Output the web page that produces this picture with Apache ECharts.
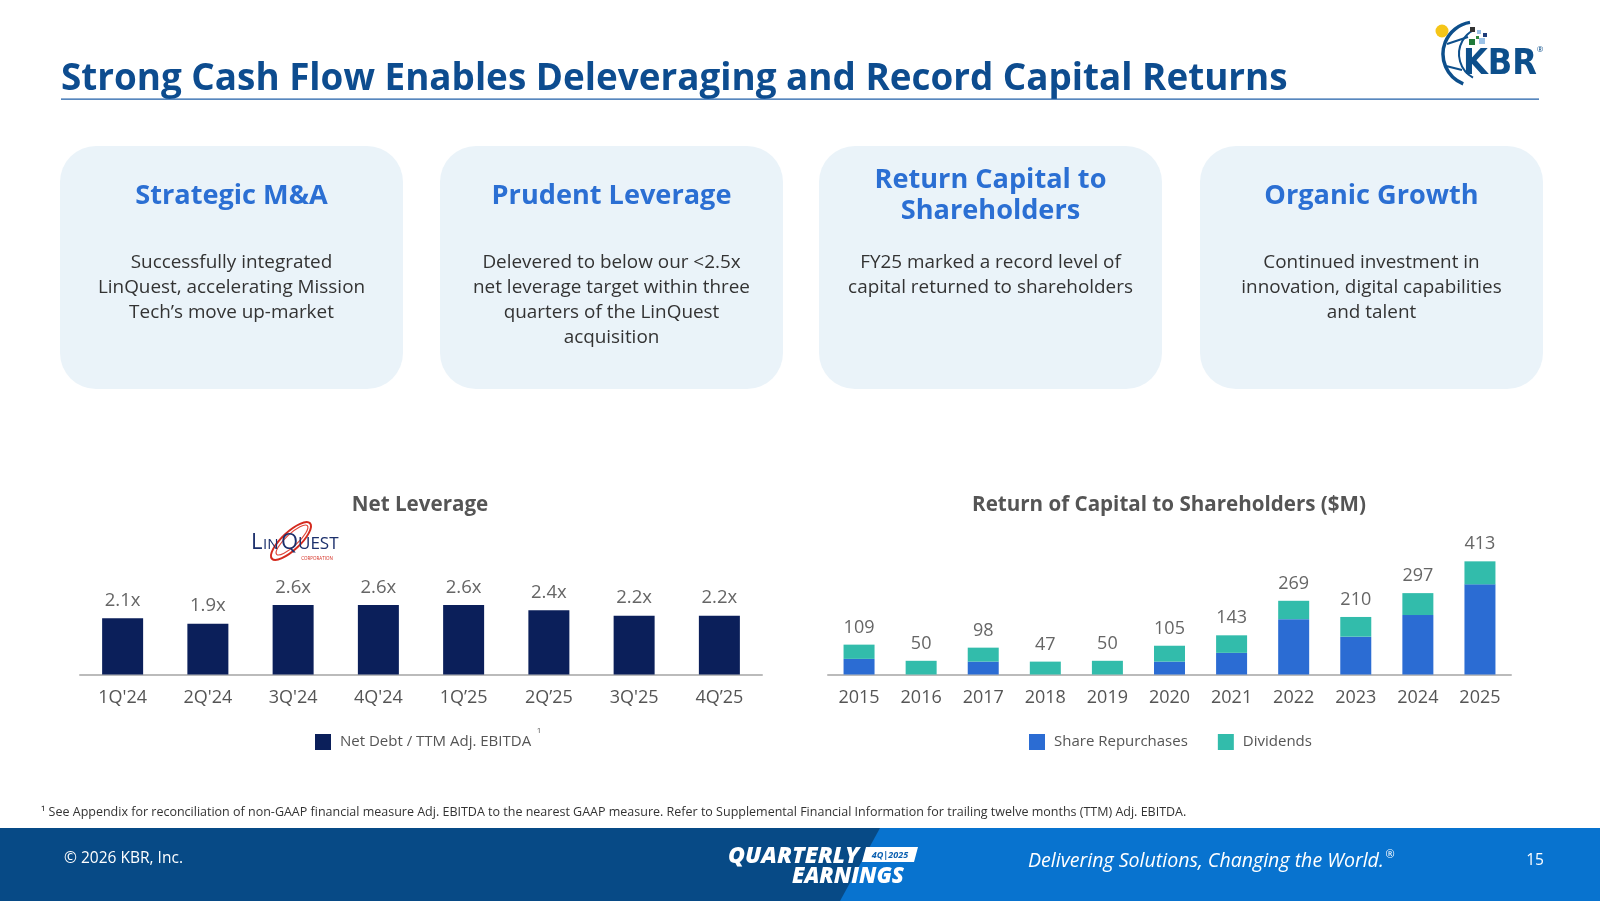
<!DOCTYPE html>
<html><head><meta charset="utf-8">
<script src="https://cdn.jsdelivr.net/npm/echarts@6/dist/echarts.min.js"></script>
<style>html,body{margin:0;padding:0;background:#fff}#c{width:1600px;height:901px}</style>
</head><body><div id="c"></div>
<script>
// ---- data ----
const leverageCategories = ["1Q'24","2Q'24","3Q'24","4Q'24","1Q’25","2Q’25","3Q'25","4Q’25"];
const leverageValues = [2.1, 1.9, 2.6, 2.6, 2.6, 2.4, 2.2, 2.2];
const capitalYears = ["2015","2016","2017","2018","2019","2020","2021","2022","2023","2024","2025"];
const shareRepurchases = [57, 0, 47, 0, 0, 47, 79, 202, 138, 217, 329];
const dividends = [52, 50, 51, 47, 50, 58, 64, 67, 72, 80, 84];
const capitalTotals = [109, 50, 98, 47, 50, 105, 143, 269, 210, 297, 413];

const cardTitles = ["Strategic M&A", "Prudent Leverage", "Return Capital to\nShareholders", "Organic Growth"];
const cardBodies = [
  "Successfully integrated\nLinQuest, accelerating Mission\nTech’s move up-market",
  "Delevered to below our <2.5x\nnet leverage target within three\nquarters of the LinQuest\nacquisition",
  "FY25 marked a record level of\ncapital returned to shareholders",
  "Continued investment in\ninnovation, digital capabilities\nand talent"
];

const FAM = "'Open Sans', 'Noto Sans', sans-serif";
const mctx = document.createElement('canvas').getContext('2d');
function measure(text, weight, fam, size) { mctx.font = weight + ' ' + size + 'px ' + fam; return mctx.measureText(text).width; }
function fit(text, weight, fam, target) { return 100 * target / measure(text, weight, fam, 100); }

const chart = echarts.init(document.getElementById('c'), null, {renderer: 'canvas'});
const g = [];

// title
const titleText = 'Strong Cash Flow Enables Deleveraging and Record Capital Returns';
const titleSize = fit(titleText, 'bold', FAM, 1227);
g.push({type:'text', style:{text:titleText, x:61, y:79, font:"bold "+titleSize.toFixed(2)+"px "+FAM, fill:'#0d4c8f', textVerticalAlign:'middle'}});
g.push({type:'rect', shape:{x:61, y:98.5, width:1478, height:1.2}, style:{fill:'#1f5fa8'}});

// KBR logo
g.push({type:'circle', shape:{cx:1442, cy:31, r:6.5}, style:{fill:'#f5c518'}});
g.push({type:'arc', shape:{cx:1475, cy:54, r:32, startAngle:Math.PI*0.62, endAngle:Math.PI*1.45}, style:{stroke:'#0d4f8b', lineWidth:3.5, fill:null}});
g.push({type:'arc', shape:{cx:1486, cy:54, r:27, startAngle:Math.PI*0.66, endAngle:Math.PI*1.36}, style:{stroke:'#0d4f8b', lineWidth:2, fill:null}});
g.push({type:'line', shape:{x1:1447, y1:44, x2:1468, y2:37}, style:{stroke:'#0d4f8b', lineWidth:2}});
g.push({type:'line', shape:{x1:1446, y1:66, x2:1462, y2:70}, style:{stroke:'#0d4f8b', lineWidth:2}});
g.push({type:'rect', shape:{x:1470, y:27, width:5, height:5}, style:{fill:'#333'}});
g.push({type:'rect', shape:{x:1477, y:30, width:4, height:4}, style:{fill:'#9cc3e8'}});
g.push({type:'rect', shape:{x:1483, y:33, width:4, height:4}, style:{fill:'#1d3d7a'}});
g.push({type:'rect', shape:{x:1476, y:36, width:3, height:3}, style:{fill:'#2e8b3e'}});
g.push({type:'rect', shape:{x:1469, y:39, width:6, height:6}, style:{fill:'#1f7a3a'}});
g.push({type:'rect', shape:{x:1479, y:38, width:6, height:6}, style:{fill:'#9cc3e8'}});
const KFAM = "'Liberation Sans Narrow', 'DejaVu Sans Condensed', sans-serif";
const kbrSize = fit('KBR', 'bold', KFAM, 74);
g.push({type:'text', style:{text:'KBR', x:1463, y:83, font:"bold "+kbrSize.toFixed(2)+"px "+KFAM, fill:'#0d4f8b', textVerticalAlign:'bottom'}});
g.push({type:'text', style:{text:'®', x:1540, y:50, font:"8px "+FAM, fill:'#0d4f8b', textAlign:'center', textVerticalAlign:'middle'}});

// cards
const cardX = [60, 440, 819, 1200];
const ctSize = fit('Prudent Leverage', 'bold', FAM, 240);
const cbSize = fit('capital returned to shareholders', 'normal', FAM, 285);
cardTitles.forEach((t, i) => {
  const x = cardX[i], w = 343, cx = x + w/2;
  g.push({type:'rect', shape:{x:x, y:146, width:w, height:243, r:36}, style:{fill:'#eaf3f9'}});
  g.push({type:'text', style:{text:t, x:cx, y:196, font:"bold "+ctSize.toFixed(2)+"px "+FAM, fill:'#2b6fd3', textAlign:'center', textVerticalAlign:'middle', lineHeight:31}});
  g.push({type:'text', style:{text:cardBodies[i], x:cx, y:250, font:cbSize.toFixed(2)+"px "+FAM, fill:'#333', textAlign:'center', textVerticalAlign:'top', lineHeight:25}});
});

// chart titles
const chtSize = fit('Return of Capital to Shareholders ($M)', 'bold', FAM, 394);
g.push({type:'text', style:{text:'Net Leverage', x:420, y:505, font:"bold "+chtSize.toFixed(2)+"px "+FAM, fill:'#555', textAlign:'center', textVerticalAlign:'middle'}});
g.push({type:'text', style:{text:'Return of Capital to Shareholders ($M)', x:1169, y:505, font:"bold "+chtSize.toFixed(2)+"px "+FAM, fill:'#555', textAlign:'center', textVerticalAlign:'middle'}});

// LinQuest logo
g.push({type:'ellipse', shape:{cx:291, cy:541, rx:26, ry:9}, rotation:0.75, originX:291, originY:541, style:{stroke:'#d42a1e', lineWidth:2, fill:null}});
g.push({type:'ellipse', shape:{cx:292, cy:540, rx:21, ry:6}, rotation:0.75, originX:292, originY:540, style:{stroke:'#e0473a', lineWidth:1.2, fill:null}});
g.push({type:'text', style:{text:'L', x:251, y:554, font:"22px "+FAM, fill:'#1b2f6b', textVerticalAlign:'bottom'}});
g.push({type:'text', style:{text:'IN', x:263, y:552, font:"15px "+FAM, fill:'#1b2f6b', textVerticalAlign:'bottom'}});
g.push({type:'text', style:{text:'Q', x:281, y:554, font:"22px "+FAM, fill:'#1b2f6b', textVerticalAlign:'bottom'}});
g.push({type:'text', style:{text:'UEST', x:298, y:553, font:"17px "+FAM, fill:'#1b2f6b', textVerticalAlign:'bottom'}});
g.push({type:'text', style:{text:'CORPORATION', x:317, y:558.5, font:"4.5px "+FAM, fill:'#d42a1e', textAlign:'center', textVerticalAlign:'middle'}});

// superscript
g.push({type:'text', style:{text:'1', x:539, y:731, font:"8px "+FAM, fill:'#555', textAlign:'center', textVerticalAlign:'middle'}});

// footnote
const fnText = '¹ See Appendix for reconciliation of non-GAAP financial measure Adj. EBITDA to the nearest GAAP measure. Refer to Supplemental Financial Information for trailing twelve months (TTM) Adj. EBITDA.';
const fnSize = fit(fnText, 'normal', FAM, 1146);
g.push({type:'text', style:{text:fnText, x:41, y:812, font:fnSize.toFixed(2)+"px "+FAM, fill:'#333', textVerticalAlign:'middle'}});

// footer
g.push({type:'rect', shape:{x:0, y:828, width:1600, height:73}, style:{fill:'#0873cf'}});
g.push({type:'polygon', shape:{points:[[0,828],[880,828],[840,901],[0,901]]}, style:{fill:'#074a86'}});
const cpSize = fit('© 2026 KBR, Inc.', 'normal', FAM, 119);
g.push({type:'text', style:{text:'© 2026 KBR, Inc.', x:64, y:859, font:cpSize.toFixed(2)+"px "+FAM, fill:'#fff', textVerticalAlign:'middle'}});
const qSize = fit('QUARTERLY', 'italic 800', FAM, 131);
g.push({type:'text', style:{text:'QUARTERLY', x:728, y:856, font:"italic 800 "+qSize.toFixed(2)+"px "+FAM, fill:'#fff', textVerticalAlign:'middle'}});
g.push({type:'polygon', shape:{points:[[866,847],[918,847],[914,862],[862,862]]}, style:{fill:'#fff'}});
g.push({type:'text', style:{text:'4Q|2025', x:890, y:855, font:"italic bold 9px "+FAM, fill:'#0a5fb0', textAlign:'center', textVerticalAlign:'middle'}});
const eSize = fit('EARNINGS', 'italic 800', FAM, 112);
g.push({type:'text', style:{text:'EARNINGS', x:792, y:877, font:"italic 800 "+eSize.toFixed(2)+"px "+FAM, fill:'#fff', textVerticalAlign:'middle'}});
const dText = 'Delivering Solutions, Changing the World.';
const dSize = fit(dText, 'italic', FAM, 356);
g.push({type:'text', style:{text:dText, x:1028, y:861, font:"italic "+dSize.toFixed(2)+"px "+FAM, fill:'#fff', textVerticalAlign:'middle'}});
g.push({type:'text', style:{text:'®', x:1028+356+6, y:855, font:"11px "+FAM, fill:'#fff', textAlign:'center', textVerticalAlign:'middle'}});
g.push({type:'text', style:{text:'15', x:1535, y:861, font:cpSize.toFixed(2)+"px "+FAM, fill:'#fff', textAlign:'center', textVerticalAlign:'middle'}});

const axisLabelStyle = {color:'#555', fontSize:18, fontFamily:FAM, margin:14};
const option = {
  animation:false,
  backgroundColor:'#fff',
  textStyle:{fontFamily:FAM},
  grid:[
    {left:80, width:682, top:567.5, height:107, containLabel:false},
    {left:828, width:683, top:537.5, height:137, containLabel:false}
  ],
  xAxis:[
    {gridIndex:0, type:'category', data:leverageCategories, axisTick:{show:false}, axisLine:{lineStyle:{color:'#bbb', width:2}}, axisLabel:axisLabelStyle},
    {gridIndex:1, type:'category', data:capitalYears, axisTick:{show:false}, axisLine:{lineStyle:{color:'#bbb', width:2}}, axisLabel:axisLabelStyle}
  ],
  yAxis:[
    {gridIndex:0, type:'value', min:0, max:4, show:false, splitLine:{show:false}},
    {gridIndex:1, type:'value', min:0, max:500, show:false, splitLine:{show:false}}
  ],
  legend:[
    {data:['Net Debt / TTM Adj. EBITDA'], left:310, top:729, itemWidth:16, itemHeight:16, icon:'rect', itemGap:30,
     textStyle:{color:'#555', fontSize:15, fontFamily:FAM, padding:[0,0,0,4]}},
    {data:['Share Repurchases','Dividends'], left:1024, top:729, itemWidth:16, itemHeight:16, icon:'rect', itemGap:30,
     textStyle:{color:'#555', fontSize:15, fontFamily:FAM, padding:[0,0,0,4]}}
  ],
  series:[
    {name:'Net Debt / TTM Adj. EBITDA', type:'bar', xAxisIndex:0, yAxisIndex:0, data:leverageValues, barWidth:41,
     itemStyle:{color:'#0b1f5a'},
     label:{show:true, position:'top', distance:8, color:'#666', fontSize:18.5, fontFamily:FAM, formatter:p=>p.value.toFixed(1)+'x'}},
    {name:'Share Repurchases', type:'bar', stack:'cap', xAxisIndex:1, yAxisIndex:1, data:shareRepurchases, barWidth:31,
     itemStyle:{color:'#2b6cd3'}},
    {name:'Dividends', type:'bar', stack:'cap', xAxisIndex:1, yAxisIndex:1, data:dividends, barWidth:31,
     itemStyle:{color:'#32bcab'},
     label:{show:true, position:'top', distance:8, color:'#666', fontSize:18, fontFamily:FAM, formatter:p=>String(capitalTotals[p.dataIndex])}}
  ],
  graphic:{elements:g}
};
chart.setOption(option);
</script></body></html>
